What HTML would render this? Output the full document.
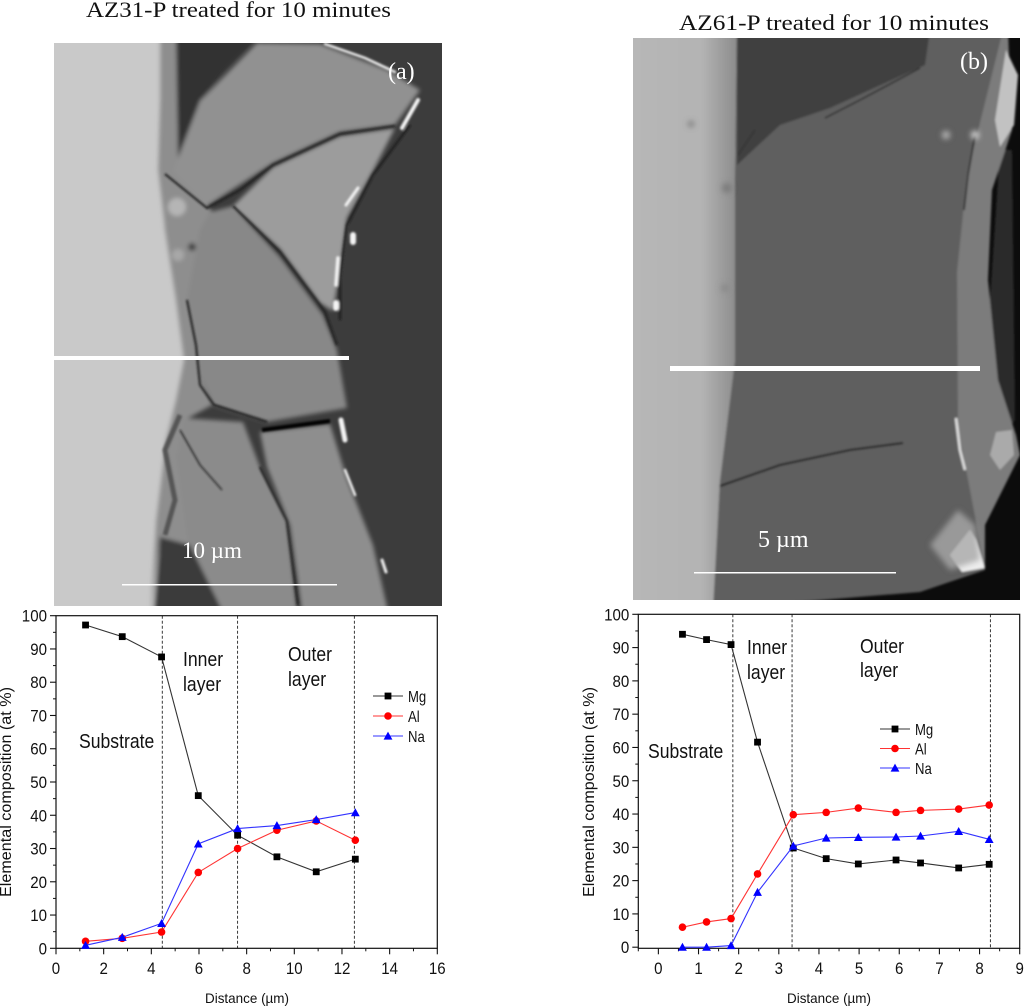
<!DOCTYPE html>
<html lang="en">
<head>
<meta charset="utf-8">
<title>AZ31-P and AZ61-P elemental composition</title>
<style>
html,body{margin:0;padding:0;background:#fff;}
svg{display:block;}
text{font-family:"Liberation Sans",sans-serif;fill:#111;}
.serif{font-family:"Liberation Serif",serif;}
</style>
</head>
<body>
<svg id="fig" xmlns="http://www.w3.org/2000/svg" width="1024" height="1006" viewBox="0 0 1024 1006">
<defs>
<filter id="b1" x="-10%" y="-10%" width="120%" height="120%"><feGaussianBlur stdDeviation="1.1"/></filter>
<filter id="b2" x="-10%" y="-10%" width="120%" height="120%"><feGaussianBlur stdDeviation="2"/></filter>
<filter id="b3" x="-30%" y="-30%" width="160%" height="160%"><feGaussianBlur stdDeviation="3"/></filter>
<filter id="b6" x="-50%" y="-50%" width="200%" height="200%"><feGaussianBlur stdDeviation="6"/></filter>
<clipPath id="clipA"><rect x="54" y="43" width="388" height="563"/></clipPath>
<clipPath id="clipB"><rect x="633" y="38" width="387" height="562"/></clipPath>
<linearGradient id="subB" x1="0" x2="1" y1="0" y2="0"><stop offset="0" stop-color="#b7b7b7"/><stop offset=".68" stop-color="#b4b4b4"/><stop offset="1" stop-color="#8c8c8c"/></linearGradient>
</defs>

<text class="serif" x="86" y="17" font-size="22" textLength="305" lengthAdjust="spacingAndGlyphs">AZ31-P treated for 10 minutes</text>
<text class="serif" x="679" y="30" font-size="22" textLength="310" lengthAdjust="spacingAndGlyphs">AZ61-P  treated for 10 minutes</text>

<g clip-path="url(#clipA)">
  <rect x="54" y="43" width="388" height="563" fill="#3c3c3c"/>
  <g filter="url(#b2)">
    <polygon points="40,30 168,30 164,100 160,170 165,230 176,300 184,360 176,400 166,440 160,520 156,620 40,620" fill="#c9c9c9"/>
    <polygon points="160,30 180,30 178,170 215,215 200,300 198,370 212,405 185,420 178,455 190,545 160,537 150,620 156,520 166,440 176,400 184,360 176,300 165,230 158,170 160,100" fill="#8e8e8e"/>
    <polygon points="176,30 265,30 225,70 200,101 178,160" fill="#323232"/>
    <polygon points="153,620 160,537 190,545 230,620" fill="#3a3a3a"/>
    <polygon points="257,43 320,44 387,70 420,90 395,125 340,132 273,163 207,206 173,171 200,101" fill="#919191"/>
    <polygon points="395,128 373,171 347,218 340,272 333,311 320,303 280,249 233,206 273,167 340,136" fill="#9c9c9c"/>
    <polygon points="233,206 280,257 323,315 337,350 347,408 267,422 213,405 198,370 187,300 200,230 210,212" fill="#888"/>
    <polygon points="183,418 243,422 260,467 287,521 298,620 227,620 190,545 178,455" fill="#8b8b8b"/>
    <polygon points="260,432 330,424 347,479 373,545 390,620 303,620 290,525 267,467" fill="#8e8e8e"/>
    <circle cx="177" cy="207" r="9" fill="#b5b5b5"/>
    <circle cx="192" cy="247" r="4" fill="#444"/>
    <circle cx="178" cy="255" r="6" fill="#a8a8a8"/>
  </g>
  <g filter="url(#b1)">
    <g fill="none" stroke="#1c1c1c" stroke-width="2">
      <polyline points="165,174 207,208 240,190 273,165 340,134 395,126"/>
      <polyline points="233,206 280,252 325,312 337,345"/>
      <polyline points="187,300 196,345 200,385 214,405 267,422"/>
      <polyline points="260,467 287,521 298,605"/>
      <polyline points="180,430 200,465 222,490" stroke-width="1.3"/>
      <polyline points="410,125 373,175 347,225 340,280 340,320" stroke-width="2.2"/>
      <polyline points="180,415 165,450 175,500 165,535" stroke="#555" stroke-width="5"/>
    </g>
    <polyline points="262,430 330,421" fill="none" stroke="#050505" stroke-width="4"/>
    <g fill="none" stroke="#f4f4f4" stroke-linecap="round">
      <polyline points="325,44 365,58 395,72" stroke-width="2.5"/>
      <polyline points="418,100 402,128" stroke-width="4"/>
      <polyline points="358,188 346,205" stroke-width="3"/>
      <polyline points="338,258 336,285" stroke-width="3.5"/>
      <polyline points="353,235 353,242" stroke-width="6"/>
      <polyline points="336,303 336,308" stroke-width="6"/>
      <polyline points="341,420 345,440" stroke-width="5"/>
      <polyline points="345,470 355,495" stroke-width="2.5"/>
      <polyline points="382,560 386,572" stroke-width="3"/>
    </g>
  </g>
  <rect x="54" y="356" width="295" height="4" fill="#fff"/>
  <rect x="122" y="584" width="215" height="1.5" fill="#fff"/>
  <text class="serif" x="182" y="558" font-size="23" style="fill:#fff">10 µm</text>
  <text class="serif" x="388" y="79" font-size="24" style="fill:#fff">(a)</text>
</g>

<g clip-path="url(#clipB)">
  <rect x="633" y="38" width="387" height="562" fill="#0c0c0c"/>
  <g filter="url(#b1)">
    <polygon points="1000,150 1012,150 1015,420 1000,440 990,300" fill="#2a2a2a"/>
    <polygon points="1000,30 1008,30 1012,130 992,190 988,280 998,380 1016,435 1020,455 1000,495 985,525 985,570 955,430 950,270 965,170" fill="#7c7c7c"/>
    <polygon points="1006,50 1018,75 1014,125 1000,147 995,120" fill="#c2c2c2"/>
    <polygon points="996,432 1012,430 1014,455 1000,470 990,455" fill="#aaa"/>
    <polygon points="737,30 1003,30 967,175 957,272 958,428 970,490 985,570 920,592 700,610 713,600 720,482 735,362 735,195" fill="#5e5e5e"/>
    <polygon points="737,30 930,30 925,65 830,108 780,125 737,165" fill="#414141"/>
    <polygon points="625,30 737,30 735,195 735,362 720,482 713,610 625,610" fill="url(#subB)"/>
    <polyline points="825,118 860,100 920,68" fill="none" stroke="#2c2c2c" stroke-width="1.5"/>
    <polyline points="738,155 755,130" fill="none" stroke="#333" stroke-width="1.5"/>
    <polyline points="720,486 780,465 850,450 903,443" fill="none" stroke="#222" stroke-width="2"/>
    <polyline points="956,418 960,450 965,470" fill="none" stroke="#e4e4e4" stroke-width="2.5"/>
    <polyline points="975,135 968,175 964,210" fill="none" stroke="#222" stroke-width="1.5"/>
    <polygon points="950,555 970,530 976,540 985,568 962,572" fill="#eee"/>
  </g>
  <g filter="url(#b3)">
    <polygon points="930,545 958,510 975,525 980,560 950,570" fill="#a8a8a8" opacity=".8"/>
    <circle cx="946" cy="135" r="4" fill="#b8b8b8"/>
    <circle cx="975" cy="135" r="4" fill="#ddd"/>
    <circle cx="691" cy="124" r="3" fill="#777"/>
    <circle cx="727" cy="188" r="5" fill="#7a7a7a"/>
    <circle cx="725" cy="288" r="4" fill="#888"/>
  </g>
  <rect x="670" y="366" width="310" height="5" fill="#fff"/>
  <rect x="694" y="572" width="202" height="1.5" fill="#fff"/>
  <text class="serif" x="758" y="547" font-size="24" style="fill:#fff">5 µm</text>
  <text class="serif" x="960" y="69" font-size="24" style="fill:#fff">(b)</text>
</g>

<g id="chartA"></g>
<g id="chartB"></g>
</svg>

<script>
// Chart A data (AZ31-P)
var aDistance = [1.24, 2.78, 4.43, 5.97, 7.62, 9.27, 10.92, 12.56];
var aMg = [97.2, 93.7, 87.6, 45.9, 34, 27.5, 23, 26.8];
var aAl = [2.1, 3, 4.9, 22.8, 30, 35.5, 38.3, 32.5];
var aNa = [0.9, 3.3, 7.5, 31.4, 36, 36.9, 38.7, 40.8];
var aBoundaries = [4.46, 7.62, 12.52];
var aXTicks = [0, 2, 4, 6, 8, 10, 12, 14, 16];
var aXMinor = [1, 3, 5, 7, 9, 11, 13, 15];
// Chart B data (AZ61-P)
var bDistance = [0.6, 1.2, 1.81, 2.47, 3.36, 4.18, 4.98, 5.92, 6.53, 7.48, 8.24];
var bMg = [94, 92.4, 90.9, 61.6, 29.8, 26.6, 25, 26.2, 25.3, 23.8, 24.9];
var bAl = [6, 7.6, 8.6, 22, 39.8, 40.5, 41.8, 40.5, 41.1, 41.5, 42.7];
var bNa = [0, 0, 0.5, 16.5, 30.4, 32.8, 33, 33.1, 33.4, 34.8, 32.4];
var bBoundaries = [1.855, 3.33, 8.27];
var bXTicks = [0, 1, 2, 3, 4, 5, 6, 7, 8, 9];
var bXMinor = [-0.5, 0.5, 1.5, 2.5, 3.5, 4.5, 5.5, 6.5, 7.5, 8.5];
// Shared axis labels
var yTicks = [0, 10, 20, 30, 40, 50, 60, 70, 80, 90, 100];
var yMinor = [5, 15, 25, 35, 45, 55, 65, 75, 85, 95];
var seriesNames = ["Mg", "Al", "Na"];

var NS = "http://www.w3.org/2000/svg";
var palette = {Mg: "#000", Al: "#f00", Na: "#00f"};
var lineColor = {Mg: "#333", Al: "#f33", Na: "#33f"};

function make(parent, tag, attrs, text) {
  var el = document.createElementNS(NS, tag);
  for (var k in attrs) el.setAttribute(k, attrs[k]);
  if (text !== undefined) el.textContent = text;
  parent.appendChild(el);
  return el;
}

function drawMarker(parent, name, x, y) {
  var m;
  if (name === "Mg") {
    m = make(parent, "rect", {x: x - 3.4, y: y - 3.4, width: 6.8, height: 6.8, fill: palette.Mg});
  } else if (name === "Al") {
    m = make(parent, "circle", {cx: x, cy: y, r: 3.8, fill: palette.Al});
  } else {
    m = make(parent, "polygon", {points: (x - 4.4) + "," + (y + 3.6) + " " + (x + 4.4) + "," + (y + 3.6) + " " + x + "," + (y - 4.4), fill: palette.Na});
  }
  
  
  return m;
}

function drawChart(root, c) {
  var sx = function (v) { return c.left + (v - c.xMin) / (c.xMax - c.xMin) * (c.right - c.left); };
  var sy = function (v) { return c.bottom - (v - c.yMin) / (c.yMax - c.yMin) * (c.bottom - c.top); };

  c.boundaries.forEach(function (b) {
    var l = make(root, "line", {x1: sx(b), x2: sx(b), y1: c.top, y2: c.bottom, stroke: "#222", "stroke-width": 0.9, "stroke-dasharray": "3 2"});
    
    
  });

  var frame = make(root, "rect", {x: c.left, y: c.top, width: c.right - c.left, height: c.bottom - c.top, fill: "none", stroke: "#111", "stroke-width": 1.2});
  
  

  c.xTicks.forEach(function (v) {
    var t = make(root, "line", {x1: sx(v), x2: sx(v), y1: c.bottom, y2: c.bottom + 6, stroke: "#111", "stroke-width": 1.1});
    
    
    var label = String(v);
    var lab = make(root, "text", {x: sx(v), y: 974, "font-size": 17, "text-anchor": "middle", textLength: label.length * 8.4, lengthAdjust: "spacingAndGlyphs"}, label);
    
    
  });
  c.xMinor.forEach(function (v) {
    var t = make(root, "line", {x1: sx(v), x2: sx(v), y1: c.bottom, y2: c.bottom + 3, stroke: "#111", "stroke-width": 1});
    
    
  });
  yTicks.forEach(function (v) {
    var t = make(root, "line", {x1: c.left - 6, x2: c.left, y1: sy(v), y2: sy(v), stroke: "#111", "stroke-width": 1.1});
    
    
    var label = String(v);
    var lab = make(root, "text", {x: c.left - 9, y: sy(v) + 6, "font-size": 17, "text-anchor": "end", textLength: label.length * 8.4, lengthAdjust: "spacingAndGlyphs"}, label);
    
    
  });
  yMinor.forEach(function (v) {
    var t = make(root, "line", {x1: c.left - 3, x2: c.left, y1: sy(v), y2: sy(v), stroke: "#111", "stroke-width": 1});
    
    
  });

  seriesNames.forEach(function (name) {
    var vals = c.series[name];
    var pts = vals.map(function (v, i) { return sx(c.x[i]) + "," + sy(v); }).join(" ");
    var line = make(root, "polyline", {points: pts, fill: "none", stroke: lineColor[name], "stroke-width": 1.1});
    
    
    vals.forEach(function (v, i) { drawMarker(root, name, sx(c.x[i]), sy(v)); });
  });

  seriesNames.forEach(function (name, i) {
    var ly = c.legendY + i * c.legendGap;
    var l = make(root, "line", {x1: c.legendX, x2: c.legendX + 30, y1: ly, y2: ly, stroke: lineColor[name], "stroke-width": 1.1});
    
    
    drawMarker(root, name, c.legendX + 15, ly);
    var t = make(root, "text", {transform: "translate(" + (c.legendX + 35) + "," + (ly + 6) + ") scale(.82,1)", "font-size": 16}, name);
    
    
  });

  var xt = make(root, "text", {x: c.xTitleX, y: 1003, "font-size": 14, "text-anchor": "middle", textLength: 84, lengthAdjust: "spacingAndGlyphs"}, "Distance (µm)");
  
  
  var yt = make(root, "text", {transform: "translate(" + c.yTitleX + ",792) rotate(-90)", "font-size": 15.5, "text-anchor": "middle", textLength: 210, lengthAdjust: "spacingAndGlyphs"}, "Elemental composition (at %)");
  
  

  c.notes.forEach(function (n) {
    var t = make(root, "text", {transform: "translate(" + n[1] + "," + n[2] + ") scale(.88,1)", "font-size": 20}, n[0]);
    
    
  });
}

drawChart(document.getElementById("chartA"), {
  left: 56, right: 437.3, top: 615.7, bottom: 948.3,
  xMin: 0, xMax: 16, yMin: 0, yMax: 100,
  x: aDistance, series: {Mg: aMg, Al: aAl, Na: aNa},
  boundaries: aBoundaries, xTicks: aXTicks, xMinor: aXMinor,
  legendX: 373, legendY: 696, legendGap: 20,
  xTitleX: 247, yTitleX: 11,
  notes: [["Substrate", 79, 748], ["Inner", 183, 666], ["layer", 183, 691], ["Outer", 288, 661], ["layer", 288, 686]]
});
drawChart(document.getElementById("chartB"), {
  left: 638.3, right: 1019.7, top: 614.3, bottom: 948.3,
  xMin: -0.5, xMax: 9, yMin: -0.33, yMax: 100,
  x: bDistance, series: {Mg: bMg, Al: bAl, Na: bNa},
  boundaries: bBoundaries, xTicks: bXTicks, xMinor: bXMinor,
  legendX: 880, legendY: 729, legendGap: 19.5,
  xTitleX: 829, yTitleX: 594,
  notes: [["Substrate", 648, 758], ["Inner", 747, 654], ["layer", 747, 679], ["Outer", 860, 653], ["layer", 860, 677]]
});
</script>
</body>
</html>
